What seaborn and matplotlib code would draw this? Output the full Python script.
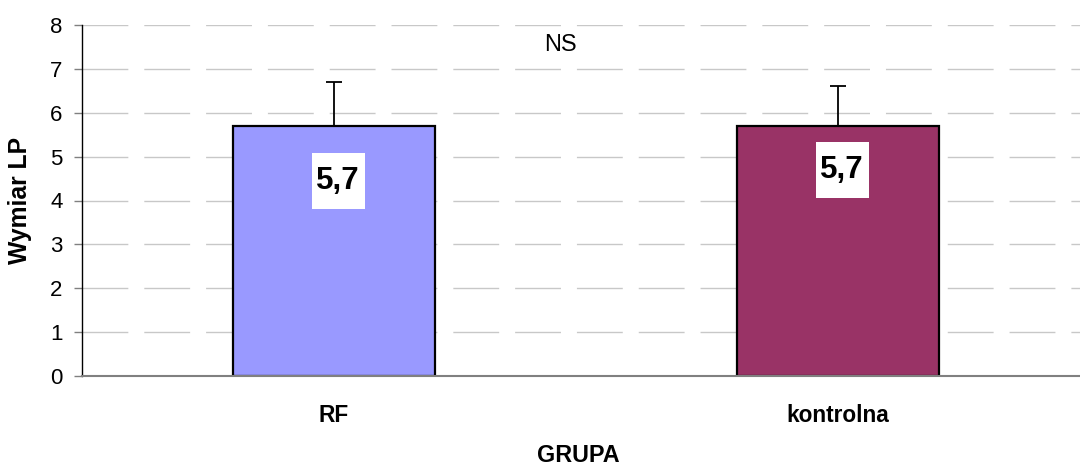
import numpy as np
import pandas as pd
import matplotlib
matplotlib.use("Agg")
import matplotlib.pyplot as plt
from matplotlib import font_manager as fm
from matplotlib.path import Path
import seaborn as sb

# data
groups = ["RF", "kontrolna"]
values = [5.7, 5.7]
err_up = [1.0, 0.9]
labels = ["5,7", "5,7"]
colors = ["#9999FF", "#993366"]
ytick_vals = [0, 1, 2, 3, 4, 5, 6, 7, 8]

df = pd.DataFrame({"GRUPA": groups, "Wymiar LP": values})

sb.set_style("white")
plt.rcParams["font.family"] = ["Liberation Sans", "DejaVu Sans"]
plt.rcParams["lines.scale_dashes"] = False
plt.rcParams.update({"text.color": "black", "axes.labelcolor": "black",
                     "xtick.labelcolor": "black", "ytick.labelcolor": "black"})

# pick the real Liberation Sans Bold file (not the narrow one)
bold_file = None
for f in fm.fontManager.ttflist:
    if f.name == "Liberation Sans" and f.weight in (700, "bold") and f.style == "normal":
        bold_file = f.fname
        break


def bold(size):
    if bold_file:
        return fm.FontProperties(fname=bold_file, size=size)
    return fm.FontProperties(family="Liberation Sans", weight="bold", size=size)


def tall_box(x0, y0, width, height, mutation_size):
    # white box a bit taller than wide, like the excel data labels
    px = 0.15 * mutation_size
    py = 0.42 * mutation_size
    x0, y0 = x0 - px, y0 - py
    x1, y1 = x0 + width + 2 * px, y0 + height + 2 * py
    return Path([(x0, y0), (x1, y0), (x1, y1), (x0, y1), (x0, y0)], closed=True)


fig = plt.figure(figsize=(10.8, 4.68), dpi=100)
ax = fig.add_axes([82 / 1080, 1 - 376 / 468, 1008 / 1080, 351 / 468])

sb.barplot(data=df, x="GRUPA", y="Wymiar LP", hue="GRUPA", palette=colors,
           saturation=1, width=0.4, edgecolor="black", linewidth=1.6,
           legend=False, errorbar=None, ax=ax)

pos = np.arange(len(groups))
ax.errorbar(pos, values, yerr=[np.zeros(len(values)), err_up], fmt="none",
            ecolor="black", elinewidth=1.3, capsize=5.8, capthick=1.3, zorder=1)

# value labels in white boxes
label_y = [4.44, 4.69]
for x, y, t in zip(pos, label_y, labels):
    ax.text(x + 0.008, y, t, ha="center", va="center", fontproperties=bold(22.5),
            bbox=dict(boxstyle=tall_box, fc="white", ec="none"))

ax.text(0.45, 7.55, "NS", ha="center", va="center", fontsize=17)

ax.set_xlim(-0.5, 1.5)
ax.set_ylim(0, 8)
ax.set_yticks(ytick_vals)
ax.yaxis.grid(True, color="#c8c8c8", linewidth=1, linestyle=(0, (33, 11.5)))
ax.set_axisbelow(True)

ax.set_xticks(pos)
ax.set_xticklabels(groups, fontproperties=bold(16.3))
ax.set_xticks([-0.5, 0.5, 1.5], minor=True)
ax.tick_params(axis="x", which="major", length=0, pad=20)
ax.tick_params(axis="x", which="minor", length=6, width=1, color="#808080",
               direction="out")
ax.tick_params(axis="y", length=6, width=1, color="#808080",
               direction="out", labelsize=16, pad=8, left=True)

for s in ["top", "right"]:
    ax.spines[s].set_visible(False)
ax.spines["left"].set_color("black")
ax.spines["left"].set_linewidth(1)
ax.spines["bottom"].set_color("#808080")
ax.spines["bottom"].set_linewidth(1.5)

ax.set_xlabel("GRUPA", fontproperties=bold(16.8))
ax.set_ylabel("Wymiar LP", fontproperties=bold(17.8))
ax.xaxis.set_label_coords(0.492, -0.195)
ax.yaxis.set_label_coords(-0.05, 0.5)

fig.savefig("out.png", dpi=100)
